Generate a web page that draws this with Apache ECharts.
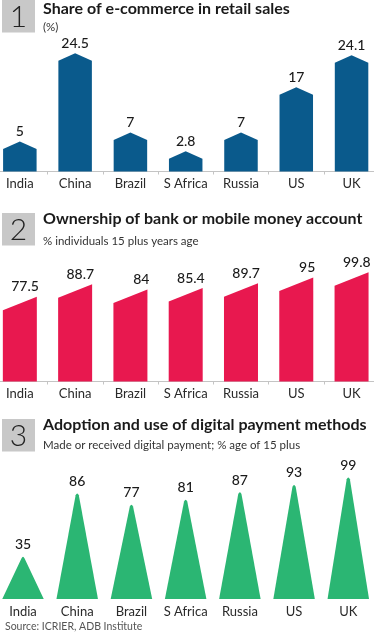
<!DOCTYPE html>
<html><head><meta charset="utf-8">
<script src="https://cdn.jsdelivr.net/npm/echarts@6/dist/echarts.min.js"></script>
<style>html,body{margin:0;padding:0;background:#fff}#c{width:374px;height:634px}</style>
</head><body><div id="c"></div>
<script>
const categories = ['India','China','Brazil','S Africa','Russia','US','UK'];
const ecommerceShare = [5, 24.5, 7, 2.8, 7, 17, 24.1];
const accountOwnership = [77.5, 88.7, 84, 85.4, 89.7, 95, 99.8];
const digitalPayments = [35, 86, 77, 81, 87, 93, 99];
const panelTitles = ['Share of e-commerce in retail sales','Ownership of bank or mobile money account','Adoption and use of digital payment methods'];
const panelSubtitles = ['(%)','% individuals 15 plus years age','Made or received digital payment; % age of 15 plus'];
const sourceText = 'Source: ICRIER, ADB Institute';

const FONT = 'Lato, "Noto Sans", sans-serif';
const BLUE = '#0a5a8c', PINK = '#e8184f', GREEN = '#2bb673';
const LABEL_FONT = '500 14px ' + FONT;

function labelEl(x, y, text, align) {
  return {type:'text', x:x, y:y, style:{text:String(text), align:align||'center', verticalAlign:'bottom', font:LABEL_FONT, fill:'#1a1a1a'}};
}
function renderPent(params, api) {
  const top = api.coord([api.value(0), api.value(1)]);
  const base = api.coord([api.value(0), 0]);
  const w = 33.5, roof = 7.5, cx = top[0];
  return {type:'group', children:[
    {type:'polygon', shape:{points:[[cx-w/2,base[1]],[cx-w/2,top[1]],[cx,top[1]-roof],[cx+w/2,top[1]],[cx+w/2,base[1]]]}, style:{fill:BLUE}},
    labelEl(cx, top[1]-roof-3, api.value(1))
  ]};
}
function renderSlant(params, api) {
  const top = api.coord([api.value(0), api.value(1)]);
  const base = api.coord([api.value(0), 0]);
  const w = 34, slant = 13.5, cx = top[0];
  return {type:'group', children:[
    {type:'polygon', shape:{points:[[cx-w/2,base[1]],[cx-w/2,top[1]+slant],[cx+w/2,top[1]],[cx+w/2,base[1]]]}, style:{fill:PINK}},
    labelEl(cx+w/2+2, top[1]-3, api.value(1), 'right')
  ]};
}
function renderCone(params, api) {
  const top = api.coord([api.value(0), api.value(1)]);
  const base = api.coord([api.value(0), 0]);
  const w = 41.5, cx = top[0], ty = top[1], by = base[1];
  const r = 3;
  const path = 'M' + (cx-w/2) + ' ' + by + ' L' + (cx-1.6) + ' ' + (ty+r) + ' Q' + cx + ' ' + (ty-0.5) + ' ' + (cx+1.6) + ' ' + (ty+r) + ' L' + (cx+w/2) + ' ' + by + ' Z';
  return {type:'group', children:[
    {type:'path', shape:{pathData:path}, style:{fill:GREEN}},
    labelEl(cx, ty-4, api.value(1))
  ]};
}

const chart = echarts.init(document.getElementById('c'), null, {renderer:'canvas'});
function xAx(idx, showLine) {
  return {type:'category', gridIndex:idx, data:categories, boundaryGap:true,
    axisLine:{show:showLine, lineStyle:{color:'#c4c4c4', width:1}},
    axisTick:{show:showLine, length:3, lineStyle:{color:'#c4c4c4'}},
    axisLabel:{color:'#2a2a2a', fontFamily:FONT, fontSize:13, margin:6, interval:0}};
}
function yAx(idx, max) {
  return {type:'value', gridIndex:idx, min:0, max:max, show:false, splitLine:{show:false}};
}
const titleBoxes = [0, 213, 419];
const titleTops = [0, 210, 416];
const titleGaps = [2, 6, 4];
chart.setOption({
  animation:false,
  backgroundColor:'#fff',
  title: panelTitles.map((t,i)=>({
    text:t, subtext:panelSubtitles[i], left:43, top:titleTops[i], padding:0, itemGap:titleGaps[i],
    textStyle:{fontFamily:FONT, fontSize:16, fontWeight:'bold', color:'#1a1a1a', lineHeight:18},
    subtextStyle:{fontFamily:FONT, fontSize:11.5, color:'#333', lineHeight:14}
  })).concat([{text:sourceText, left:5, top:620, padding:0, textStyle:{fontFamily:FONT, fontSize:10.5, fontWeight:'normal', color:'#555', lineHeight:14}}]),
  graphic: titleBoxes.map((y,i)=>({type:'group', left:2, top:y, children:[
    {type:'rect', shape:{x:0,y:0,width:33,height:32.5}, style:{fill:'#c8c8c8'}},
    {type:'text', x:16.5, y:17.5, style:{text:String(i+1), font:'300 30px ' + FONT, fill:'#222', align:'center', verticalAlign:'middle'}}
  ]})),
  grid:[
    {left:-7.8, width:387, top:36, height:135.5, outerBoundsMode:'none', containLabel:false},
    {left:-7.8, width:387, top:272, height:109.5, outerBoundsMode:'none', containLabel:false},
    {left:-4.1, width:379.5, top:475, height:124, outerBoundsMode:'none', containLabel:false}
  ],
  xAxis:[xAx(0,true), xAx(1,true), xAx(2,false)],
  yAxis:[yAx(0,30), yAx(1,100), yAx(2,100)],
  series:[
    {type:'custom', xAxisIndex:0, yAxisIndex:0, renderItem:renderPent, data:ecommerceShare.map((v,i)=>[i,v]), encode:{x:0,y:1}, clip:false},
    {type:'custom', xAxisIndex:1, yAxisIndex:1, renderItem:renderSlant, data:accountOwnership.map((v,i)=>[i,v]), encode:{x:0,y:1}, clip:false},
    {type:'custom', xAxisIndex:2, yAxisIndex:2, renderItem:renderCone, data:digitalPayments.map((v,i)=>[i,v]), encode:{x:0,y:1}, clip:false}
  ]
});
</script></body></html>
